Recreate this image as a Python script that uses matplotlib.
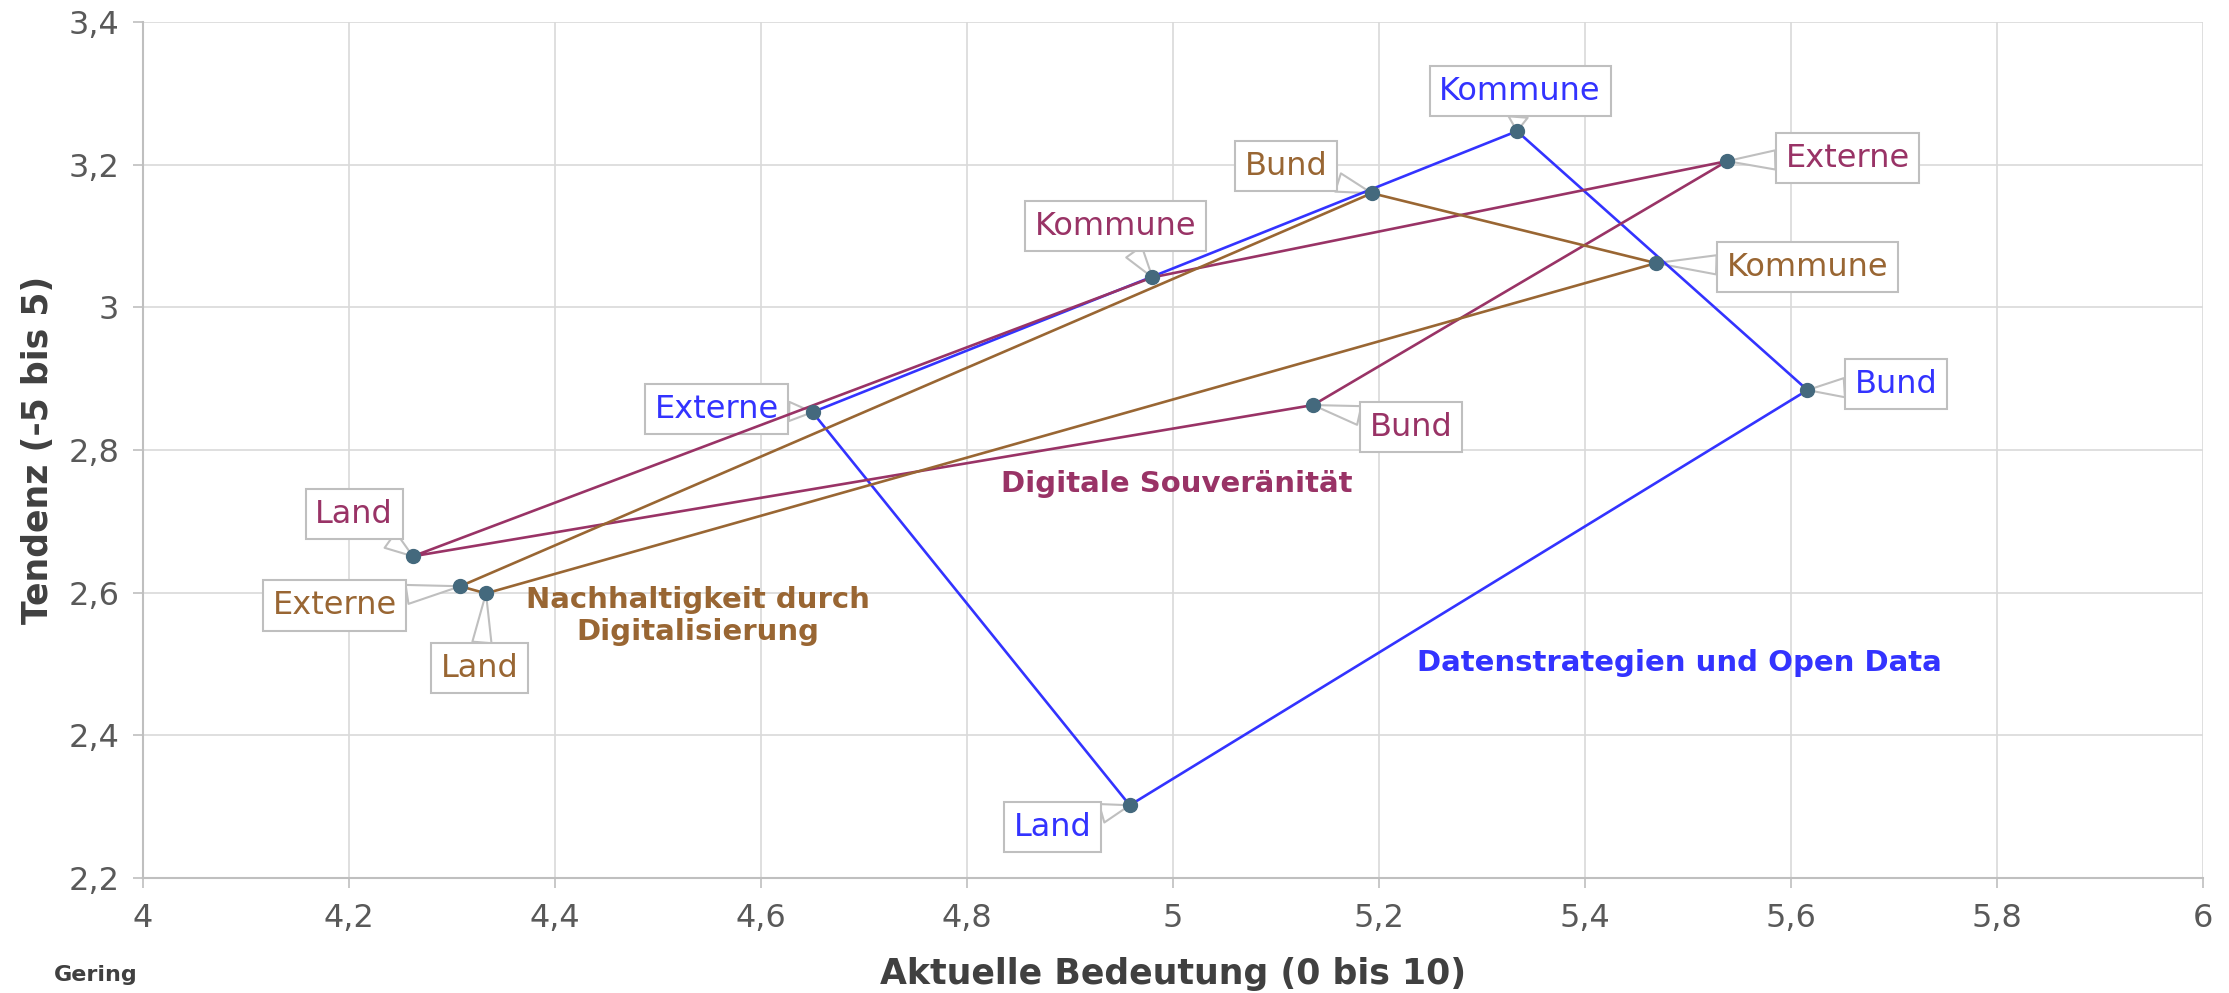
import numpy as np
import matplotlib
matplotlib.use('Agg')
import matplotlib.pyplot as plt
from matplotlib.ticker import FuncFormatter

# Daten (Reihenfolge = Zeichenreihenfolge des geschlossenen Polygons)
blau_namen = ['Externe', 'Kommune', 'Bund', 'Land']
blau_x = [4.650, 5.334, 5.616, 4.958]
blau_y = [2.853, 3.247, 2.884, 2.302]

lila_namen = ['Land', 'Kommune', 'Externe', 'Bund']
lila_x = [4.262, 4.980, 5.538, 5.136]
lila_y = [2.651, 3.042, 3.205, 2.863]

braun_namen = ['Externe', 'Bund', 'Kommune', 'Land']
braun_x = [4.308, 5.193, 5.469, 4.333]
braun_y = [2.609, 3.160, 3.062, 2.599]

# Position der Beschriftungskästen (Datenkoordinaten)
blau_lab = [(4.557, 2.857), (5.337, 3.303), (5.702, 2.892), (4.883, 2.271)]
lila_lab = [(4.205, 2.710), (4.944, 3.114), (5.655, 3.209), (5.231, 2.832)]
braun_lab = [(4.186, 2.582), (5.110, 3.198), (5.616, 3.056), (4.327, 2.494)]

serien = [
    ('Datenstrategien und Open Data', '#3333ff', blau_namen, blau_x, blau_y, blau_lab, (5.492, 2.501)),
    ('Digitale Souveränität', '#993366', lila_namen, lila_x, lila_y, lila_lab, (5.004, 2.753)),
    ('Nachhaltigkeit durch\nDigitalisierung', '#996633', braun_namen, braun_x, braun_y, braun_lab, (4.539, 2.567)),
]

fig = plt.figure(figsize=(22.29, 9.93), dpi=100)
ax = fig.add_axes([143 / 2229, 1 - 878 / 993, 2060 / 2229, 856 / 993])

for titel, farbe, namen, xs, ys, labs, tpos in serien:
    ax.plot(xs + xs[:1], ys + ys[:1], color=farbe, lw=1.9, zorder=3)
    ax.plot(xs, ys, 'o', color='#44697d', ms=10, zorder=4)
    for n, x, y, (tx, ty) in zip(namen, xs, ys, labs):
        ax.annotate(n, xy=(x, y), xytext=(tx, ty), ha='center', va='center',
                    fontsize=23, color=farbe, zorder=2,
                    bbox=dict(boxstyle='square,pad=0.3', fc='white', ec='#bfbfbf', lw=1.5),
                    arrowprops=dict(arrowstyle='wedge,tail_width=0.6,shrink_factor=0.5',
                                    fc='white', ec='#bfbfbf', lw=1.5,
                                    shrinkA=0, shrinkB=0))
    ax.text(tpos[0], tpos[1], titel, ha='center', va='center', fontsize=21,
            fontweight='bold', color=farbe, zorder=2)

ax.set_xlim(4, 6)
ax.set_ylim(2.2, 3.4)
ax.set_xticks(np.round(np.arange(4, 6.01, 0.2), 1))
ax.set_yticks(np.round(np.arange(2.2, 3.41, 0.2), 1))
fmt = FuncFormatter(lambda v, p: f'{v:g}'.replace('.', ','))
ax.xaxis.set_major_formatter(fmt)
ax.yaxis.set_major_formatter(fmt)

ax.grid(True, color='#d9d9d9', lw=1.2)
ax.set_axisbelow(True)
for s in ['top', 'right']:
    ax.spines[s].set_visible(False)
for s in ['left', 'bottom']:
    ax.spines[s].set_color('#bfbfbf')
    ax.spines[s].set_linewidth(1.5)
ax.tick_params(axis='both', length=7, width=1.2, color='#bfbfbf',
               labelsize=23, labelcolor='#595959')
ax.tick_params(axis='x', pad=11)
ax.tick_params(axis='y', pad=10)

ax.set_xlabel('Aktuelle Bedeutung (0 bis 10)', fontsize=25, fontweight='bold',
              color='#404040', va='center')
ax.xaxis.set_label_coords(0.5, -0.112)
ax.set_ylabel('Tendenz (-5 bis 5)', fontsize=25, fontweight='bold',
              color='#404040', va='center')
ax.yaxis.set_label_coords(-0.051, 0.5)

fig.text(96 / 2229, 1 - 975 / 993, 'Gering', ha='center', va='center',
         fontsize=16, fontweight='bold', color='#404040')

plt.savefig('out.png', dpi=100)
